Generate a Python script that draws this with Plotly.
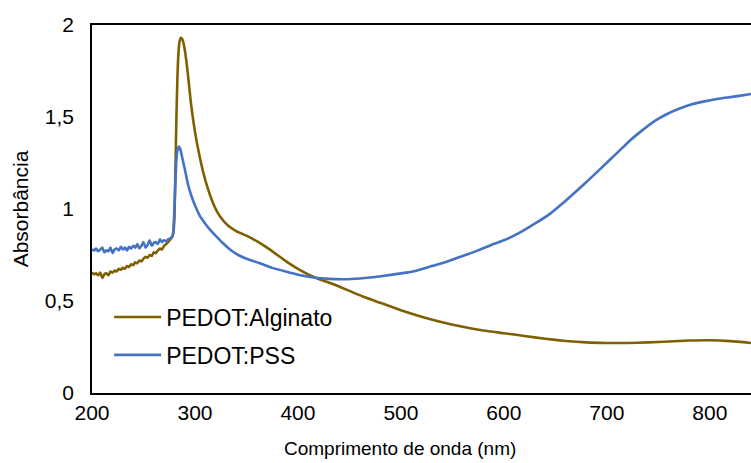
import plotly.graph_objects as go

# ---- data ----
noise_nm = list(range(200, 280, 2))
alg_noise = [0.655, 0.645, 0.65, 0.64, 0.655, 0.625, 0.645, 0.65, 0.64, 0.66,
             0.655, 0.665, 0.66, 0.675, 0.67, 0.68, 0.675, 0.69, 0.685, 0.70,
             0.695, 0.71, 0.705, 0.72, 0.715, 0.73, 0.74, 0.735, 0.75, 0.745,
             0.765, 0.76, 0.775, 0.785, 0.78, 0.80, 0.81, 0.82, 0.835, 0.85]
pss_noise = [0.78, 0.775, 0.785, 0.77, 0.78, 0.79, 0.765, 0.775, 0.77, 0.79,
             0.76, 0.78, 0.785, 0.775, 0.795, 0.78, 0.79, 0.775, 0.795, 0.785,
             0.80, 0.79, 0.81, 0.785, 0.80, 0.82, 0.79, 0.805, 0.83, 0.80,
             0.815, 0.82, 0.81, 0.835, 0.82, 0.83, 0.825, 0.835, 0.84, 0.85]

alg_nm_tail = [279, 280, 281, 282, 283, 284, 285, 286.5, 288, 290, 293, 296, 300,
               304, 308, 312, 317, 322, 327, 332, 340, 350, 360, 370, 380, 390,
               400, 410, 420, 435, 450, 465, 480, 500, 520, 540, 560, 580, 600,
               620, 640, 660, 680, 700, 720, 740, 760, 780, 800, 820, 840]
alg_val_tail = [0.87, 0.95, 1.2, 1.5, 1.72, 1.85, 1.91, 1.93, 1.92, 1.87, 1.74,
                1.58, 1.42, 1.30, 1.20, 1.12, 1.04, 0.98, 0.94, 0.91, 0.88,
                0.855, 0.825, 0.79, 0.75, 0.71, 0.675, 0.645, 0.62, 0.59, 0.555,
                0.52, 0.49, 0.45, 0.415, 0.385, 0.36, 0.34, 0.325, 0.31, 0.295,
                0.283, 0.275, 0.272, 0.272, 0.275, 0.28, 0.285, 0.287, 0.282, 0.272]

pss_nm_tail = [279, 280, 281, 282, 283, 284.5, 286, 288, 290, 293, 296, 300, 305,
               310, 315, 320, 327, 334, 342, 350, 363, 375, 388, 400, 415, 430,
               445, 460, 475, 490, 500, 515, 530, 545, 560, 575, 590, 600, 615,
               630, 645, 660, 677, 695, 710, 722, 735, 747, 758, 770, 781, 795,
               807, 820, 830, 840]
pss_val_tail = [0.88, 1.0, 1.15, 1.27, 1.32, 1.34, 1.32, 1.27, 1.22, 1.14, 1.08,
                1.02, 0.96, 0.92, 0.885, 0.855, 0.815, 0.78, 0.75, 0.73, 0.705,
                0.68, 0.66, 0.643, 0.628, 0.62, 0.618, 0.622, 0.63, 0.642, 0.65,
                0.665, 0.69, 0.715, 0.745, 0.775, 0.81, 0.83, 0.87, 0.92, 0.975,
                1.045, 1.13, 1.225, 1.305, 1.37, 1.43, 1.48, 1.515, 1.545, 1.567,
                1.585, 1.598, 1.608, 1.616, 1.625]

alg_nm = noise_nm + alg_nm_tail
alg_val = alg_noise + alg_val_tail
pss_nm = noise_nm + pss_nm_tail
pss_val = pss_noise + pss_val_tail

x_ticks = [200, 300, 400, 500, 600, 700, 800]
y_ticks = [0, 0.5, 1, 1.5, 2]
y_ticktext = ["0", "0,5", "1", "1,5", "2"]
x_title = "Comprimento de onda (nm)"
y_title = "Absorbância"

FONT = "Liberation Sans, Arial, sans-serif"

fig = go.Figure()
fig.add_trace(go.Scatter(x=alg_nm, y=alg_val, mode="lines", name="PEDOT:Alginato",
                         legendgroup="a",
                         line=dict(color="#7F6000", width=2.6, shape="spline", smoothing=0.5)))
fig.add_trace(go.Scatter(x=pss_nm, y=pss_val, mode="lines", name="PEDOT:PSS",
                         legendgroup="b",
                         line=dict(color="#4472C4", width=2.6, shape="spline", smoothing=0.5)))

fig.update_layout(
    width=751, height=463,
    margin=dict(l=92, r=0, t=25, b=70),
    paper_bgcolor="white", plot_bgcolor="white",
    font=dict(family=FONT, size=20, color="#000000"),
    showlegend=True,
    legend=dict(x=0.026, y=0.265, xanchor="left", yanchor="top",
                bgcolor="rgba(0,0,0,0)", font=dict(size=23, family=FONT),
                itemwidth=47, traceorder="grouped", tracegroupgap=5),
    xaxis=dict(range=[200, 840], tickvals=x_ticks, showgrid=False, zeroline=False,
               showline=True, linecolor="black", linewidth=1.5, mirror=True,
               ticks="", tickfont=dict(size=21)),
    yaxis=dict(range=[0, 2], tickvals=y_ticks, ticktext=y_ticktext, showgrid=False,
               zeroline=False, showline=True, linecolor="black", linewidth=1.5,
               mirror=False, ticks="", tickfont=dict(size=21), ticklabelstandoff=12,
               title=dict(text=y_title, font=dict(size=21), standoff=10)),
    annotations=[dict(text=x_title, xref="paper", yref="paper", x=0.467, y=-0.152,
                      xanchor="center", yanchor="middle", showarrow=False,
                      font=dict(size=19, family=FONT))],
)

fig.write_html("out.html")
